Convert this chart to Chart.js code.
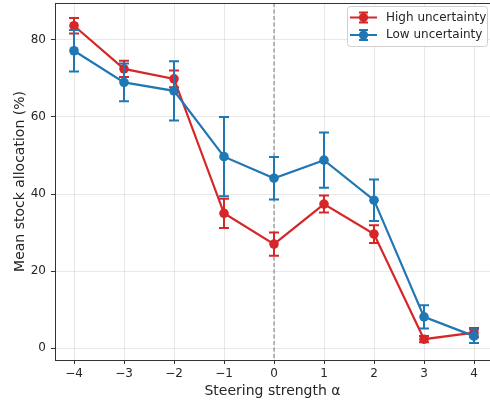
<!DOCTYPE html>
<html>
<head>
<meta charset="utf-8">
<script src="https://cdn.jsdelivr.net/npm/chart.js@4.4.1/dist/chart.umd.min.js"></script>
<style>
    html, body { margin: 0; padding: 0; background: #fff; }
    #wrap { width: 490px; height: 406px; }
</style>
</head>
<body>
<div id="wrap"><canvas id="grafico"></canvas></div>
<script>
// Dados
const alphas = [-4, -3, -2, -1, 0, 1, 2, 3, 4];
const highMean = [83.7, 72.5, 69.9, 35.0, 27.0, 37.4, 29.6, 2.3, 4.0];
const highErr = [2.0, 2.1, 2.2, 3.8, 3.0, 2.2, 2.3, 0.8, 1.2];
const lowMean = [77.2, 69.0, 66.8, 49.7, 44.1, 48.8, 38.4, 8.1, 3.1];
const lowErr = [5.4, 4.9, 7.7, 10.3, 5.5, 7.2, 5.4, 3.0, 1.8];
const xTicks = [-4, -3, -2, -1, 0, 1, 2, 3, 4];
const yTicks = [0, 20, 40, 60, 80];
const seriesLabels = ['High uncertainty', 'Low uncertainty'];

const RED = '#d62728';
const BLUE = '#1f77b4';
const FONT = 'DejaVu Sans';
const TEXT = '#262626';

// Formatar com sinal de menos tipográfico
function fmt(v) {
    return String(v).replace('-', '\u2212');
}

function pontos(media) {
    return alphas.map((a, i) => ({ x: a, y: media[i] }));
}

// Barras de erro desenhadas antes de cada série
const errorBars = {
    id: 'errorBars',
    beforeDatasetDraw(chart, args) {
        const ds = chart.data.datasets[args.index];
        if (!ds.errors) return;
        const ctx = chart.ctx;
        const x = chart.scales.x;
        const y = chart.scales.y;
        ctx.save();
        ctx.strokeStyle = ds.borderColor;
        ctx.lineWidth = 2;
        ds.data.forEach((p, i) => {
            const px = x.getPixelForValue(p.x);
            const top = y.getPixelForValue(p.y + ds.errors[i]);
            const bot = y.getPixelForValue(p.y - ds.errors[i]);
            ctx.beginPath();
            ctx.moveTo(px, top);
            ctx.lineTo(px, bot);
            ctx.moveTo(px - 5, top);
            ctx.lineTo(px + 5, top);
            ctx.moveTo(px - 5, bot);
            ctx.lineTo(px + 5, bot);
            ctx.stroke();
        });
        ctx.restore();
    }
};

// Linha tracejada em alpha = 0 e moldura
const extras = {
    id: 'extras',
    beforeDatasetsDraw(chart) {
        const ctx = chart.ctx;
        const area = chart.chartArea;
        const px = chart.scales.x.getPixelForValue(0);
        ctx.save();
        ctx.strokeStyle = '#777';
        ctx.lineWidth = 1;
        ctx.setLineDash([4, 2.5]);
        ctx.beginPath();
        ctx.moveTo(px, area.top);
        ctx.lineTo(px, area.bottom);
        ctx.stroke();
        ctx.restore();
    },
    afterDraw(chart) {
        const ctx = chart.ctx;
        const area = chart.chartArea;
        ctx.save();
        ctx.strokeStyle = '#333';
        ctx.lineWidth = 1;
        ctx.strokeRect(area.left + 0.5, area.top + 0.5, area.right - area.left + 2, area.bottom - area.top);
        ctx.restore();
        desenharLegenda(chart);
    }
};

// Legenda com símbolo de barra de erro
function desenharLegenda(chart) {
    const ctx = chart.ctx;
    const bx = 347.5, by = 6.5, bw = 140, bh = 40;
    ctx.save();
    ctx.fillStyle = 'rgba(255,255,255,0.8)';
    ctx.strokeStyle = '#d0d0d0';
    ctx.lineWidth = 1;
    ctx.beginPath();
    ctx.roundRect(bx, by, bw, bh, 3);
    ctx.fill();
    ctx.stroke();

    const cores = [RED, BLUE];
    const linhas = [17.5, 35];
    linhas.forEach((cy, i) => {
        ctx.strokeStyle = cores[i];
        ctx.fillStyle = cores[i];
        ctx.lineWidth = 2;
        ctx.beginPath();
        ctx.moveTo(350, cy);
        ctx.lineTo(377, cy);
        ctx.moveTo(363.5, cy - 5);
        ctx.lineTo(363.5, cy + 5);
        ctx.moveTo(359, cy - 5);
        ctx.lineTo(368, cy - 5);
        ctx.moveTo(359, cy + 5);
        ctx.lineTo(368, cy + 5);
        ctx.stroke();
        ctx.beginPath();
        ctx.arc(363.5, cy, 4.6, 0, Math.PI * 2);
        ctx.fill();
        ctx.fillStyle = TEXT;
        ctx.font = '12px "' + FONT + '"';
        ctx.textBaseline = 'middle';
        ctx.fillText(seriesLabels[i], 386, cy);
    });
    ctx.restore();
}

const chart = new Chart(document.getElementById('grafico'), {
    type: 'line',
    data: {
        datasets: [
            {
                label: seriesLabels[0],
                data: pontos(highMean),
                errors: highErr,
                borderColor: RED,
                backgroundColor: RED,
                borderWidth: 2.2,
                pointRadius: 4.8,
                pointBorderWidth: 0,
                order: 2
            },
            {
                label: seriesLabels[1],
                data: pontos(lowMean),
                errors: lowErr,
                borderColor: BLUE,
                backgroundColor: BLUE,
                borderWidth: 2.2,
                pointRadius: 4.8,
                pointBorderWidth: 0,
                order: 1
            }
        ]
    },
    options: {
        responsive: true,
        maintainAspectRatio: false,
        animation: false,
        layout: { autoPadding: false, padding: { top: 3, right: 0, left: 0, bottom: 0 } },
        plugins: {
            legend: { display: false },
            tooltip: { enabled: false }
        },
        scales: {
            x: {
                type: 'linear',
                min: -4.38,
                max: 4.32,
                afterBuildTicks: s => { s.ticks = xTicks.map(v => ({ value: v })); },
                afterFit: s => {
                    s.height = 46;
                    s.paddingLeft = 0;
                    s.paddingRight = 0;
                },
                grid: { color: 'rgba(0,0,0,0.09)', tickColor: '#333', tickLength: 4 },
                border: { display: false },
                ticks: {
                    padding: 3,
                    color: TEXT,
                    font: { family: FONT, size: 12 },
                    callback: v => fmt(v)
                },
                title: {
                    display: true,
                    text: 'Steering strength α',
                    color: TEXT,
                    font: { family: FONT, size: 14 },
                    padding: { top: 0, bottom: 6 }
                }
            },
            y: {
                min: -3.1,
                max: 89.6,
                afterBuildTicks: s => { s.ticks = yTicks.map(v => ({ value: v })); },
                afterFit: s => {
                    s.width = 55;
                    s.paddingTop = 0;
                    s.paddingBottom = 0;
                },
                grid: { color: 'rgba(0,0,0,0.09)', tickColor: '#333', tickLength: 4 },
                border: { display: false },
                ticks: {
                    padding: 5,
                    color: TEXT,
                    font: { family: FONT, size: 12 },
                    callback: v => fmt(v)
                },
                title: {
                    display: true,
                    text: 'Mean stock allocation (%)',
                    color: TEXT,
                    font: { family: FONT, size: 14 },
                    padding: { top: 12, bottom: 0 }
                }
            }
        }
    },
    plugins: [errorBars, extras]
});
</script>
</body>
</html>
